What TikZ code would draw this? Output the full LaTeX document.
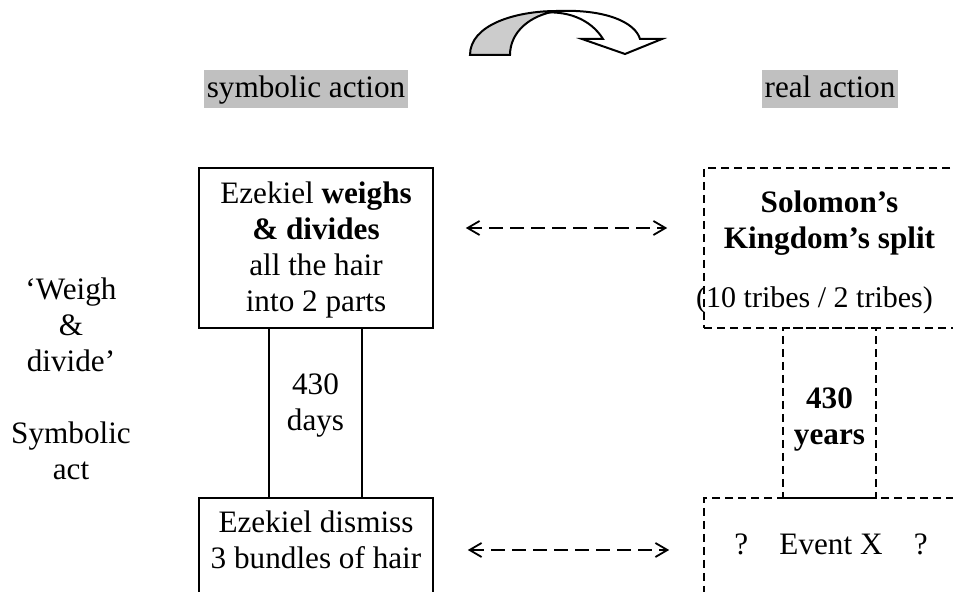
\documentclass[tikz,border=0pt]{standalone}
\usepackage{fontspec}
\setmainfont{Liberation Serif}
\usetikzlibrary{arrows.meta}
\definecolor{hlgray}{RGB}{192,192,192}
\definecolor{turngray}{RGB}{204,204,204}

\tikzset{
    solidbox/.style={draw, line width=0.8pt, inner sep=0pt},
    dashbox/.style={draw, line width=0.8pt, dash pattern=on 4pt off 2.5pt, inner sep=0pt},
    boxtext/.style={align=center, inner sep=0pt},
    heading/.style={fill=hlgray, anchor=base, inner xsep=1.5pt, inner ysep=0pt, text height=14pt, text depth=5pt},
    link/.style={{Straight Barb[length=6pt,width=7pt]}-{Straight Barb[length=6pt,width=7pt]}, line width=0.9pt, dash pattern=on 7pt off 3.5pt}
}

\begin{document}
\begin{tikzpicture}[x=0.5pt, y=-0.5pt, font=\fontsize{15.6}{18}\selectfont]
    \useasboundingbox (0,0) rectangle (953,592);

    % Turning arrow
    \draw[line width=1pt, fill=white] (557,11) .. controls (605,9) and (635,22) .. (640,39)
        -- (662,39) -- (625,54) -- (582,39) -- (603,39)
        .. controls (590,18) and (565,10) .. (540,13) -- cycle;
    \draw[line width=1pt, fill=turngray] (470,55) .. controls (470,25) and (515,11) .. (557,11)
        .. controls (530,15) and (510,32) .. (510,55) -- cycle;

    % Headings
    \node[heading] (symbolic) at (306,98) {symbolic action};
    \node[heading] (real) at (830,98) {real action};

    % Side label
    \node[boxtext] (sidelabel) at (71,379) {`Weigh\\ \&\\ divide'\\[18pt] Symbolic\\ act};

    % Symbolic side
    \node[solidbox, minimum width=117pt, minimum height=80pt] (weigh) at (316,248) {};
    \node[boxtext] (weightext) at (316,250) {Ezekiel \textbf{weighs}\\ \textbf{\& divides}\\ all the hair\\ into 2 parts};
    \node[solidbox, minimum width=46.5pt, minimum height=85pt] (days) at (315.5,413) {};
    \node[boxtext] (daystext) at (315.5,405) {430\\ days};
    \node[solidbox, minimum width=117pt, minimum height=56pt] (dismiss) at (316,554) {};
    \node[boxtext] (dismisstext) at (316,540) {Ezekiel dismiss\\ 3 bundles of hair};

    % Real side
    \node[dashbox, minimum width=125.5pt, minimum height=80pt] (split) at (829.5,248) {};
    \node[boxtext] (splittext) at (829.5,252) {\textbf{Solomon's}\\ \textbf{Kingdom's split}\\[11.5pt]
        {\fontsize{15}{18}\selectfont (10 tribes / 2 tribes)\kern15pt}};
    \node[dashbox, minimum width=46.5pt, minimum height=85pt] (years) at (829.5,413) {};
    \node[boxtext, font=\fontsize{15.6}{18}\selectfont\bfseries] (yearstext) at (829.5,419) {430\\ years};
    \node[dashbox, minimum width=125.5pt, minimum height=56pt] (event) at (829.5,554) {};
    \node[anchor=base, inner sep=0pt] (eventtext) at (831,555) {?\quad Event X\quad ?};

    % Correspondence arrows
    \draw[link, shorten <=16pt, shorten >=18pt] ([yshift=10pt]weigh.east) -- ([yshift=10pt]split.west);
    \draw[link, shorten <=17pt, shorten >=17pt] ([yshift=2pt]dismiss.east) -- ([yshift=2pt]event.west);
\end{tikzpicture}
\end{document}
